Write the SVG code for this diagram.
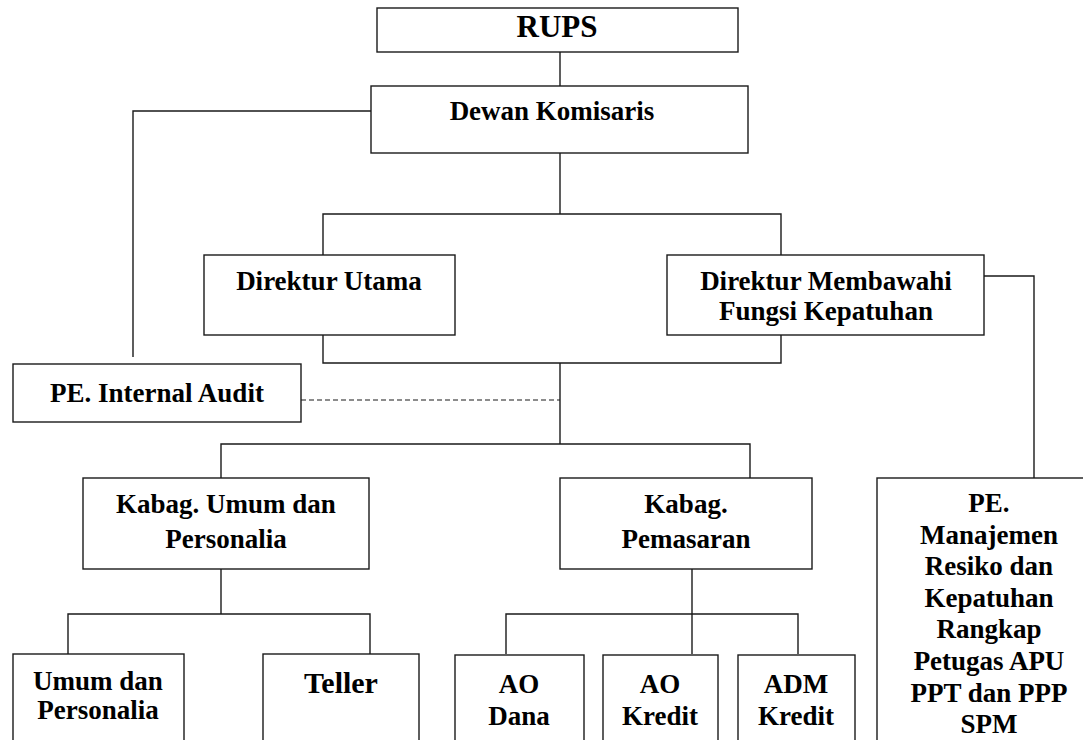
<svg xmlns="http://www.w3.org/2000/svg" width="1083" height="740" viewBox="0 0 1083 740">
<style>
.box{fill:#fff;stroke:#1a1a1a;stroke-width:1.4}
.ln{fill:none;stroke:#1a1a1a;stroke-width:1.4}
.dash{fill:none;stroke:#1a1a1a;stroke-width:1.2;stroke-dasharray:5 3}
text{font-family:"Liberation Serif","Times New Roman",serif;font-weight:bold;font-size:27px;fill:#000;text-anchor:middle}
</style>
<rect width="1083" height="740" fill="#fff"/>
<g id="connectors">
<polyline class="ln" points="560,52 560,86"/>
<polyline class="ln" points="371,111 133,111 133,357"/>
<polyline class="ln" points="560,153 560,214"/>
<polyline class="ln" points="323,255 323,214 781,214 781,255"/>
<polyline class="ln" points="323,335 323,363 781,363 781,335"/>
<polyline class="ln" points="984,276 1034,276 1034,478"/>
<polyline class="ln" points="560,363 560,444"/>
<line class="dash" x1="301" y1="400" x2="560" y2="400"/>
<polyline class="ln" points="221,478 221,444 750,444 750,478"/>
<polyline class="ln" points="221,569 221,614"/>
<polyline class="ln" points="68,654 68,614 370,614 370,654"/>
<polyline class="ln" points="692,569 692,654"/>
<polyline class="ln" points="506,654 506,614 798,614 798,654"/>
</g>
<g id="rups">
<rect class="box" x="377" y="8" width="361" height="44"/>
<text x="557" y="37" style="font-size:31px">RUPS</text>
</g>
<g id="dewan-komisaris">
<rect class="box" x="371" y="86" width="377" height="67"/>
<text x="552" y="120">Dewan Komisaris</text>
</g>
<g id="direktur-utama">
<rect class="box" x="204" y="255" width="251" height="80"/>
<text x="329" y="290">Direktur Utama</text>
</g>
<g id="direktur-kepatuhan">
<rect class="box" x="667" y="255" width="317" height="80"/>
<text x="826" y="290">Direktur Membawahi</text>
<text x="826" y="320">Fungsi Kepatuhan</text>
</g>
<g id="internal-audit">
<rect class="box" x="13" y="364" width="288" height="58"/>
<text x="157" y="402">PE. Internal Audit</text>
</g>
<g id="kabag-umum">
<rect class="box" x="83" y="478" width="286" height="91"/>
<text x="226" y="513">Kabag. Umum dan</text>
<text x="226" y="548">Personalia</text>
</g>
<g id="kabag-pemasaran">
<rect class="box" x="560" y="478" width="252" height="91"/>
<text x="686" y="513">Kabag.</text>
<text x="686" y="548">Pemasaran</text>
</g>
<g id="pe-manajemen-resiko">
<rect class="box" x="877" y="478" width="230" height="280"/>
<text x="989" y="512">PE.</text>
<text x="989" y="544">Manajemen</text>
<text x="989" y="575">Resiko dan</text>
<text x="989" y="607">Kepatuhan</text>
<text x="989" y="638">Rangkap</text>
<text x="989" y="670">Petugas APU</text>
<text x="989" y="702">PPT dan PPP</text>
<text x="989" y="733">SPM</text>
</g>
<g id="umum-personalia">
<rect class="box" x="13" y="654" width="171" height="100"/>
<text x="98" y="690">Umum dan</text>
<text x="98" y="719">Personalia</text>
</g>
<g id="teller">
<rect class="box" x="263" y="654" width="156" height="100"/>
<text x="341" y="693" style="font-size:30px">Teller</text>
</g>
<g id="ao-dana">
<rect class="box" x="455" y="655" width="129" height="100"/>
<text x="519" y="693">AO</text>
<text x="519" y="725">Dana</text>
</g>
<g id="ao-kredit">
<rect class="box" x="603" y="655" width="115" height="100"/>
<text x="660" y="693">AO</text>
<text x="660" y="725">Kredit</text>
</g>
<g id="adm-kredit">
<rect class="box" x="738" y="655" width="117" height="100"/>
<text x="796" y="693">ADM</text>
<text x="796" y="725">Kredit</text>
</g>
</svg>
